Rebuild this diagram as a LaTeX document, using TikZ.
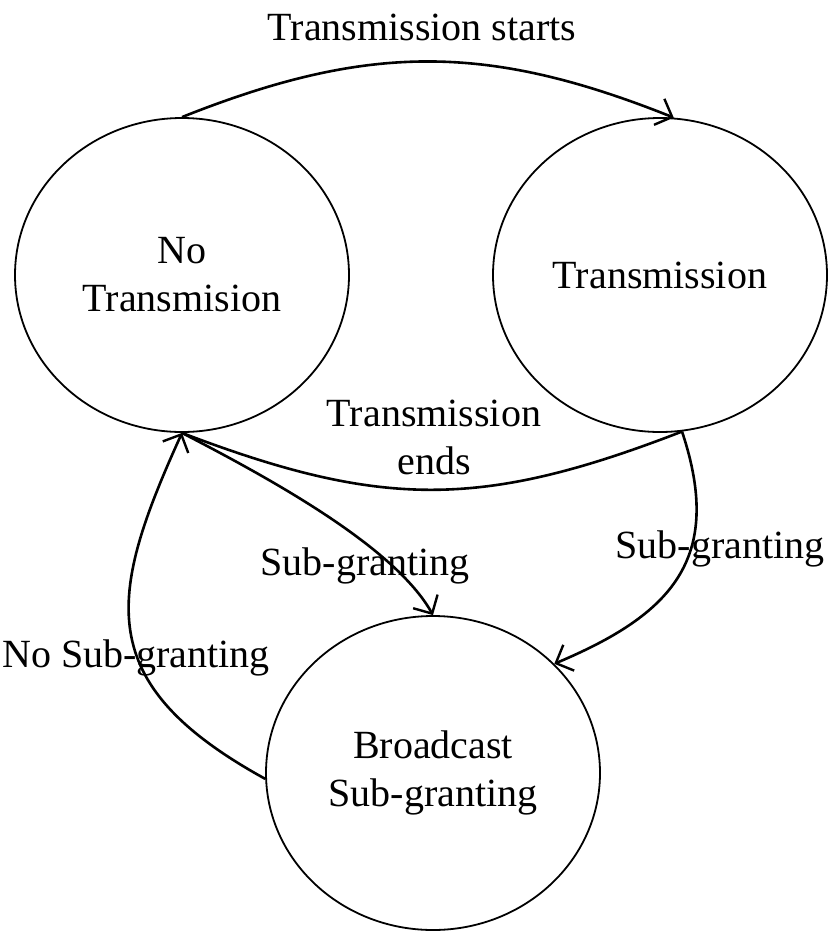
\documentclass[tikz,border=0pt]{standalone}
\usepackage{fontspec}
\setmainfont{Liberation Serif}
\usetikzlibrary{shapes.geometric,arrows.meta}
\begin{document}
\begin{tikzpicture}[x=0.5pt,y=-0.5pt,
  state/.style={draw, ellipse, line width=0.9pt, minimum width=167pt, minimum height=157pt, inner sep=0pt, align=center, font=\fontsize{20}{24}\selectfont},
  lbl/.style={inner sep=0pt, align=center, font=\fontsize{20}{24}\selectfont},
  conn/.style={line width=1.3pt},
  tip/.style={-{Straight Barb[length=7pt,width=14pt,line width=1.2pt]}}]
\useasboundingbox (0,0) rectangle (832,932);
\node[state] (nt) at (182,275) {No\\Transmision};
\node[state] (tr) at (660,275) {Transmission};
\node[state] (bs) at (433,773) {Broadcast\\Sub-granting};

\draw[conn,tip] (nt.north) .. controls (368,43) and (487,43) .. (tr.85);
\draw[conn] (tr.-82) .. controls (482,509) and (382,509) .. (nt.south);
\draw[conn,tip] (nt.south) .. controls (271,479) and (395,547) .. (bs.north);
\draw[conn,tip] (tr.-82) .. controls (725,560) and (670,615) .. (bs.42);
\draw[conn,tip] (bs.182) .. controls (91,683) and (108,596) .. (nt.south);

\node[lbl] (ls) at (422,27) {Transmission starts};
\node[lbl] (le) at (434,437) {Transmission\\ends};
\node[lbl] (lsl) at (365,566) {Sub-granting};
\node[lbl] (lsr) at (720,549) {Sub-granting};
\node[lbl] (lns) at (136,658) {No Sub-granting};
\end{tikzpicture}
\end{document}
